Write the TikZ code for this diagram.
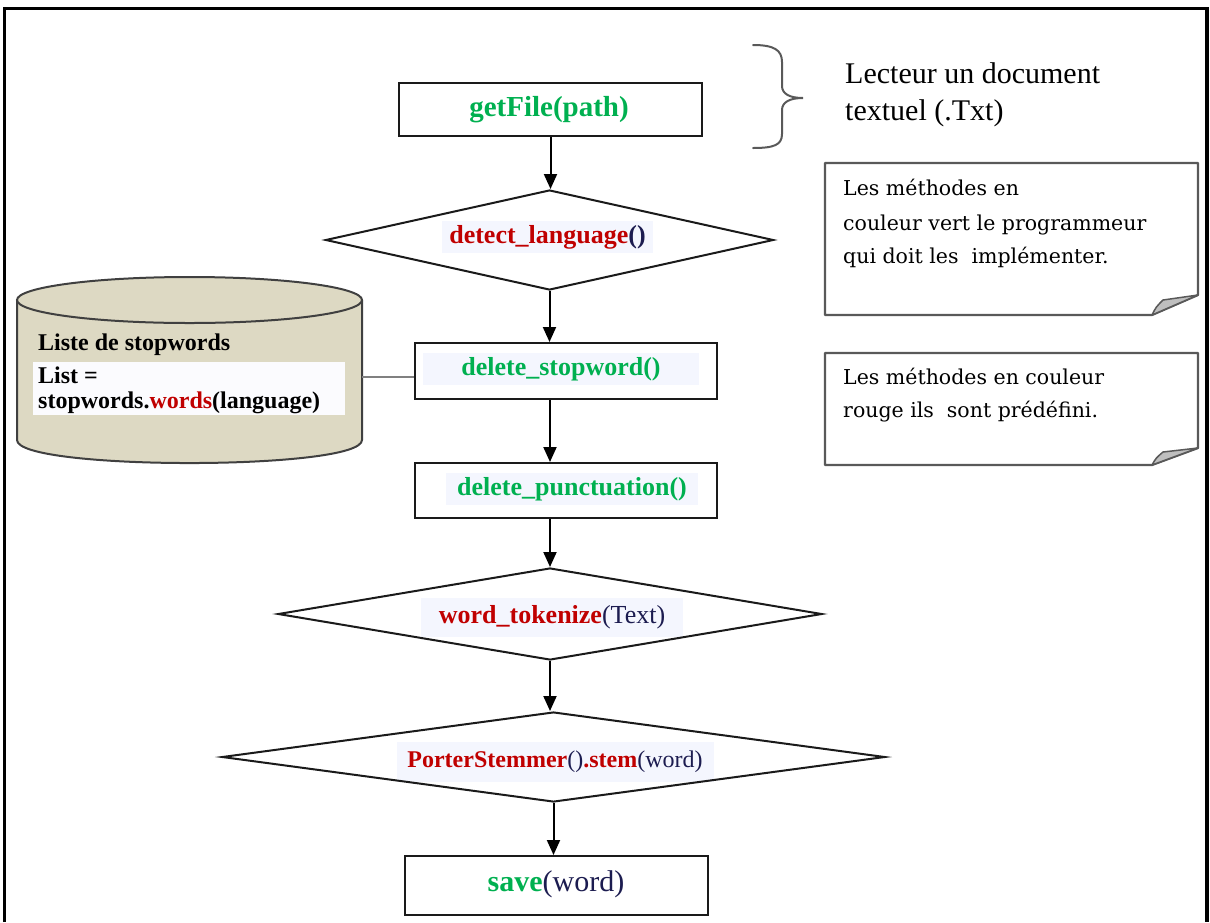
\documentclass[tikz,border=0pt]{standalone}
\usepackage{fontspec}
\setmainfont{Liberation Serif}
\newfontfamily\notefont{DejaVu Serif}
\usetikzlibrary{shapes.geometric,arrows.meta}
\definecolor{codegreen}{HTML}{00B050}
\definecolor{codered}{HTML}{C00000}
\definecolor{codenavy}{HTML}{1C1C50}
\definecolor{boxline}{HTML}{1A1A1A}
\definecolor{hlfill}{HTML}{F4F6FE}
\definecolor{dbfill}{HTML}{DDD9C3}
\definecolor{dbline}{HTML}{404040}
\definecolor{noteline}{HTML}{595959}
\definecolor{foldfill}{HTML}{BFBFBF}
\begin{document}
\begin{tikzpicture}[x=1pt,y=-1pt,
  box/.style={draw=boxline, line width=2pt, inner sep=0pt},
  dec/.style={diamond, draw=boxline, line width=2pt, inner sep=0pt},
  hl/.style={fill=hlfill, inner sep=0pt},
  code/.style={font=\fontsize{26}{30}\selectfont},
  flow/.style={draw=black, line width=2pt, arrows={-Triangle[width=13pt,length=15pt]}},
  link/.style={draw=black!50, line width=2pt},
  note/.style={anchor=base west, inner sep=0pt, font=\notefont\fontsize{20.5}{34}\selectfont},
  side/.style={anchor=base west, inner sep=0pt, font=\fontsize{30}{37}\selectfont},
  dbtext/.style={anchor=base west, inner sep=0pt, font=\bfseries\fontsize{24}{25}\selectfont}]
\useasboundingbox (0,0) rectangle (1210,922);

% page frame (open at the bottom)
\draw[line width=3.5pt, black] (4.5,922) -- (4.5,8.5) -- (1207,8.5) -- (1207,922);

% step labels, set first so that the outlines lie on top of their highlights
\node[inner sep=0pt, font=\bfseries\fontsize{29}{32}\selectfont] (gettxt) at (549,110)
  {\textcolor{codegreen}{getFile(path)}};
\node[hl, code, minimum width=211, minimum height=32] (langtxt) at (547.5,237)
  {\bfseries\textcolor{codered}{detect\_language}\textcolor{codenavy}{()}};
\node[hl, code, minimum width=276, minimum height=32] (stoptxt) at (561,369)
  {\bfseries\textcolor{codegreen}{delete\_stopword()}};
\node[hl, code, minimum width=252, minimum height=32] (puncttxt) at (572,489)
  {\bfseries\textcolor{codegreen}{delete\_punctuation()}};
\node[hl, code, minimum width=262, minimum height=39] (toktxt) at (552,617)
  {\textcolor{codered}{\bfseries word\_tokenize}\textcolor{codenavy}{(Text)}};
\node[hl, inner sep=0pt, font=\fontsize{24}{28}\selectfont, minimum width=317, minimum height=40] (stemtxt) at (555,762)
  {\textcolor{codered}{\bfseries PorterStemmer}\textcolor{codenavy}{()}\textcolor{codered}{\bfseries .stem}\textcolor{codenavy}{(word)}};
\node[inner sep=0pt, font=\fontsize{30}{32}\selectfont] (savetxt) at (556,884)
  {\textcolor{codegreen}{\bfseries save}\textcolor{codenavy}{(word)}};

% flow chart steps
\node[box, minimum width=303, minimum height=53] (get) at (550.5,109) {};
\node[dec, minimum width=448, minimum height=100] (lang) at (549.5,240) {};
\node[box, minimum width=302, minimum height=56] (stop) at (566,371) {};
\node[box, minimum width=302, minimum height=55] (punct) at (566,490.5) {};
\node[dec, minimum width=544, minimum height=92] (tok) at (550,614) {};
\node[dec, minimum width=663, minimum height=90] (stem) at (553.5,757) {};
\node[box, minimum width=303, minimum height=59] (save) at (556.5,885.5) {};

% connectors
\draw[flow] (get.south) -- (get.south |- lang.north);
\draw[flow] (lang.south) -- (lang.south |- stop.north);
\draw[flow] (stop.south -| tok.north) -- (punct.north -| tok.north);
\draw[flow] (punct.south -| tok.north) -- (tok.north);
\draw[flow] (tok.south) -- (tok.south |- stem.north);
\draw[flow] (stem.south) -- (stem.south |- save.north);

% stop-word store
\path[fill=dbfill] (17,300) -- (17,440) .. controls (17,470.7) and (362,470.7) .. (362,440) -- (362,300) -- cycle;
\draw[draw=dbline, line width=2pt] (17,300) -- (17,440) .. controls (17,470.7) and (362,470.7) .. (362,440) -- (362,300);
\draw[draw=dbline, fill=dbfill, line width=2pt] (189.5,300) ellipse [x radius=172.5, y radius=23];
\node[inner sep=0pt, minimum width=345, minimum height=1] (db) at (189.5,377) {};
\fill[white!60!hlfill] (33,362) rectangle (345,415);
\node[dbtext] (dbtitle) at (38,350) {Liste de stopwords};
\node[dbtext] (dbline1) at (38,383) {List =};
\node[dbtext] (dbline2) at (38,408) {stopwords.\textcolor{codered}{words}(language)};
\draw[link] (db.east) -- (db.east -| stop.west);

% brace and its caption
\draw[draw=noteline, line width=2pt, line cap=round]
  (753,45) .. controls (774,45) and (782,50) .. (782,62) -- (782,86)
  .. controls (782,94) and (790,98) .. (803,98)
  .. controls (790,98) and (782,102) .. (782,110) -- (782,134)
  .. controls (782,145) and (774,148) .. (753,148);
\node[side] (reader1) at (845,83) {Lecteur un document};
\node[side] (reader2) at (845,120) {textuel (.Txt)};

% notes with a folded corner
\draw[draw=noteline, fill=white, line width=2.2pt, line join=round]
  (825,163) -- (1198,163) -- (1198,295) -- (1152,315) -- (825,315) -- cycle;
\draw[draw=noteline, fill=foldfill, line width=1.5pt, line join=round]
  (1152,315) .. controls (1156,307) .. (1163,300) .. controls (1180,297) .. (1198,295) -- cycle;
\node[note] (n1a) at (843,195) {Les méthodes en};
\node[note] (n1b) at (843,230) {couleur vert le programmeur};
\node[note] (n1c) at (843,263) {qui doit les\ \ implémenter.};

\draw[draw=noteline, fill=white, line width=2.2pt, line join=round]
  (825,353) -- (1198,353) -- (1198,448) -- (1152,465) -- (825,465) -- cycle;
\draw[draw=noteline, fill=foldfill, line width=1.5pt, line join=round]
  (1152,465) .. controls (1156,458) .. (1163,452) .. controls (1180,450) .. (1198,448) -- cycle;
\node[note] (n2a) at (843,384) {Les méthodes en couleur};
\node[note] (n2b) at (843,417) {rouge ils\ \ sont prédéfini.};
\end{tikzpicture}
\end{document}
